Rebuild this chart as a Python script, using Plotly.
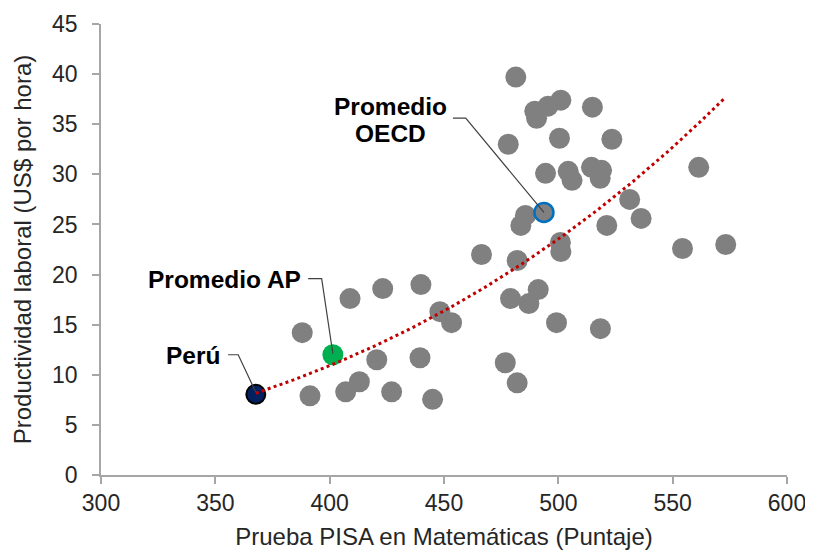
import numpy as np
import plotly.graph_objects as go

# ---- data ----
pisa = [481.4, 489.7, 495.5, 501.1, 490.5, 514.9, 478.1, 500.5, 523.4, 494.4,
        504.3, 506.0, 514.5, 518.9, 518.3, 561.4, 531.2, 536.2, 485.6, 483.6,
        521.2, 554.3, 573.2, 466.4, 500.9, 501.1, 482.0, 479.1, 491.2, 487.1,
        499.2, 518.4, 439.9, 448.2, 453.3, 439.5, 476.8, 482.0, 445.0, 388.0,
        408.9, 423.2, 391.4, 407.0, 413.0, 420.6, 427.1]
productividad = [39.7, 36.3, 36.8, 37.4, 35.6, 36.7, 33.0, 33.6, 33.5, 30.1,
                 30.3, 29.4, 30.7, 30.4, 29.6, 30.7, 27.5, 25.6, 25.9, 24.9,
                 24.9, 22.6, 23.0, 22.0, 23.2, 22.3, 21.4, 17.6, 18.5, 17.1,
                 15.2, 14.6, 19.0, 16.3, 15.2, 11.7, 11.2, 9.2, 7.55, 14.2,
                 17.6, 18.6, 7.9, 8.3, 9.3, 11.5, 8.3]

peru_x, peru_y = [367.7], [8.05]
ap_x, ap_y = [401.4], [12.0]
oecd_x, oecd_y = [493.7], [26.2]

x_ticks = [300, 350, 400, 450, 500, 550, 600]
y_ticks = [0, 5, 10, 15, 20, 25, 30, 35, 40, 45]

# ---- power trendline fitted to the data (like Excel's power trendline) ----
fit_x = np.array(pisa + peru_x)
fit_y = np.array(productividad + peru_y)
b, ln_a = np.polyfit(np.log(fit_x), np.log(fit_y), 1)
tx = np.linspace(fit_x.min(), fit_x.max(), 200)
ty = np.exp(ln_a) * tx ** b

FONT = "Liberation Sans, Arial, sans-serif"
GRAY = "#808080"

fig = go.Figure()
fig.add_trace(go.Scatter(x=pisa, y=productividad, mode="markers",
                         marker=dict(size=21, color=GRAY, line=dict(width=0)),
                         hoverinfo="skip"))
fig.add_trace(go.Scatter(x=oecd_x, y=oecd_y, mode="markers",
                         marker=dict(size=19, color=GRAY, line=dict(width=2.5, color="#0070C0"))))
fig.add_trace(go.Scatter(x=ap_x, y=ap_y, mode="markers",
                         marker=dict(size=21, color="#00B050", line=dict(width=0))))
fig.add_trace(go.Scatter(x=peru_x, y=peru_y, mode="markers",
                         marker=dict(size=19, color="#002060", line=dict(width=2, color="#000000"))))
fig.add_trace(go.Scatter(x=tx, y=ty, mode="lines",
                         line=dict(color="#C00000", width=3, dash="3px,3.3px"),
                         hoverinfo="skip"))

# leader lines (text -> point), elbow style
def leader(x0, x1, y0, px, py):
    return dict(type="path", xref="x", yref="y",
                path=f"M {x0},{y0} L {x1},{y0} L {px},{py}",
                line=dict(color="#404040", width=1.2))

shapes = [
    leader(453.9, 459.5, 35.6, oecd_x[0], oecd_y[0]),
    leader(390.6, 396.5, 19.6, ap_x[0], ap_y[0] + 0.1),
    leader(355.6, 360.0, 12.0, peru_x[0], peru_y[0] + 0.2),
]

ann_font = dict(family=FONT, size=24.5, color="#000000")
annotations = [
    dict(x=426.8, y=36.8, text="<b>Promedio</b>", showarrow=False, font=ann_font, xref="x", yref="y"),
    dict(x=426.8, y=34.1, text="<b>OECD</b>", showarrow=False, font=ann_font, xref="x", yref="y"),
    dict(x=353.9, y=19.5, text="<b>Promedio AP</b>", showarrow=False, font=ann_font, xref="x", yref="y"),
    dict(x=340.3, y=11.9, text="<b>Perú</b>", showarrow=False, font=ann_font, xref="x", yref="y"),
]

axis_common = dict(showgrid=False, zeroline=False, showline=True, linecolor="#A6A6A6",
                   linewidth=1.5, ticks="outside", tickcolor="#A6A6A6", ticklen=7,
                   tickwidth=1.5, automargin=False,
                   tickfont=dict(family=FONT, size=23, color="#262626"))

# page body has an 8px default margin, so the figure is 8px smaller and offset
fig.update_layout(
    width=805, height=544,
    margin=dict(l=93, r=26, t=16, b=77),
    paper_bgcolor="white", plot_bgcolor="white",
    showlegend=False,
    shapes=shapes, annotations=annotations,
    xaxis=dict(range=[300, 600], tickvals=x_ticks, **axis_common,
               title=dict(text="Prueba PISA en Matemáticas (Puntaje)", standoff=13,
                          font=dict(family=FONT, size=24, color="#262626"))),
    yaxis=dict(range=[0, 45], tickvals=y_ticks, ticklabelstandoff=10, **axis_common,
               title=dict(text="Productividad laboral (US$ por hora)", standoff=14,
                          font=dict(family=FONT, size=24, color="#262626"))),
)

fig.write_html("out.html")
